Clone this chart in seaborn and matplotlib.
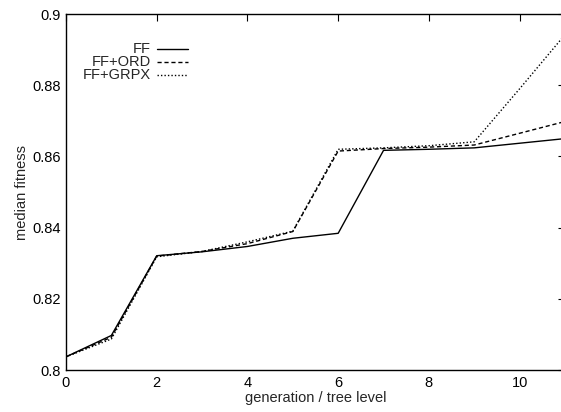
import matplotlib
matplotlib.use("Agg")
import matplotlib.pyplot as plt
import seaborn as sns
import pandas as pd

generation = [0, 1, 2, 3, 4, 5, 6, 7, 8, 9, 10, 11]
ff = [0.8037, 0.8097, 0.8321, 0.8332, 0.8347, 0.8370, 0.8384, 0.8617, 0.8620, 0.8624, 0.8637, 0.8650]
ff_ord = [0.8037, 0.8092, 0.8320, 0.8333, 0.8355, 0.8389, 0.8615, 0.8622, 0.8626, 0.8632, 0.8665, 0.8698]
ff_grpx = [0.8037, 0.8087, 0.8318, 0.8333, 0.8360, 0.8390, 0.8620, 0.8624, 0.8630, 0.8641, 0.8790, 0.8942]
series_names = ["FF", "FF+ORD", "FF+GRPX"]
dashes = {"FF": "", "FF+ORD": (3, 2), "FF+GRPX": (1, 1.5)}

sns.set_style("white")
plt.rcParams['font.family'] = ['Liberation Sans', 'DejaVu Sans']

df = pd.DataFrame({
    "generation": generation * 3,
    "fitness": ff + ff_ord + ff_grpx,
    "series": sum([[n] * len(generation) for n in series_names], []),
})

fig = plt.figure(figsize=(5.61, 4.12), dpi=100)
ax = fig.add_axes([66 / 561, 42 / 412, 499 / 561, 356 / 412])

sns.lineplot(data=df, x="generation", y="fitness", style="series",
             dashes=dashes, color="black", linewidth=1.0, ax=ax, legend=False)

ax.set_xlim(0, 11)
ax.set_ylim(0.8, 0.9)
ax.set_xticks([0, 2, 4, 6, 8, 10])
ax.set_yticks([0.8, 0.82, 0.84, 0.86, 0.88, 0.9])
ax.set_yticklabels(["0.8", "0.82", "0.84", "0.86", "0.88", "0.9"])
ax.tick_params(direction="in", length=5, width=0.8, top=True, right=True,
               labelsize=10.5, colors="black", pad=4)
for s in ax.spines.values():
    s.set_color("black")
    s.set_linewidth(1.0)
ax.set_xlabel("generation / tree level", fontsize=10.5, labelpad=1)
ax.set_ylabel("median fitness", fontsize=10.5, labelpad=2)

# gnuplot-style key (text right-aligned, sample to the right)
key_y = [0.902, 0.866, 0.830]
for name, yk in zip(series_names, key_y):
    ax.text(0.170, yk, name, transform=ax.transAxes, ha="right", va="center",
            fontsize=10.5)
    ln, = ax.plot([0.183, 0.245], [yk, yk], transform=ax.transAxes,
                  color="black", linewidth=1.0)
    if dashes[name]:
        ln.set_dashes(dashes[name])

fig.savefig("out.png", dpi=100)
